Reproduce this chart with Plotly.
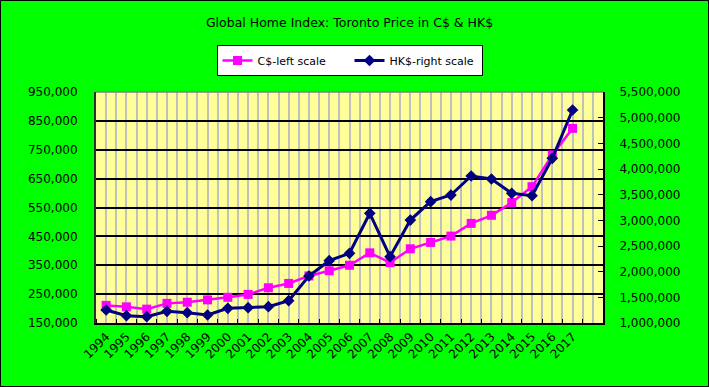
import plotly.graph_objects as go

years = [str(y) for y in range(1994, 2018)]
cad = [211000, 206000, 198000, 218000, 222000, 230000, 239000, 249000, 272000, 287000,
       313000, 331000, 350000, 393000, 359000, 407000, 429000, 451000, 495000, 523000,
       567000, 622000, 732000, 824000]
hkd = [1253000, 1142000, 1123000, 1228000, 1201000, 1156000, 1286000, 1299000, 1318000, 1434000,
       1916000, 2214000, 2358000, 3137000, 2292000, 3006000, 3363000, 3493000, 3864000, 3805000,
       3526000, 3480000, 4208000, 5149000]

left_ticks = list(range(150000, 950001, 100000))
right_ticks = list(range(1000000, 5500001, 500000))

idx = list(range(len(years)))
ncat = len(years) + 1  # one empty trailing category
centers = list(range(ncat))
bounds = [i + 0.5 for i in range(-1, ncat)]

GRAY = "#c0c0c0"
FONT = "DejaVu Sans"

fig = go.Figure()
fig.add_trace(go.Scatter(
    x=idx, y=cad, name="C$-left scale", mode="lines+markers",
    line=dict(color="#ff00ff", width=2.5),
    marker=dict(symbol="square", size=9, color="#ff00ff"),
    yaxis="y"))
fig.add_trace(go.Scatter(
    x=idx, y=hkd, name="HK$-right scale", mode="lines+markers",
    line=dict(color="#000080", width=3),
    marker=dict(symbol="diamond", size=9, color="#000080"),
    yaxis="y2"))

fig.update_layout(
    width=709, height=387,
    margin=dict(l=96, r=106, t=92, b=64, autoexpand=False),
    paper_bgcolor="#00ff00",
    plot_bgcolor="#ffff99",
    font=dict(family=FONT, size=12, color="black"),
    title=dict(text="Global Home Index: Toronto Price in C$ &amp; HK$",
               x=0.5, xref="paper", xanchor="center",
               y=1 - 23 / 387, yref="container", yanchor="middle",
               font=dict(family=FONT, size=12.5, color="black")),
    showlegend=True,
    legend=dict(orientation="h", x=0.5, xanchor="center", y=(323 - 45) / 231, yanchor="top",
                bgcolor="white", bordercolor="black", borderwidth=1,
                entrywidth=87, entrywidthmode="pixels",
                font=dict(family=FONT, size=11, color="black")),
    xaxis=dict(range=[-0.5, ncat - 0.5], tickmode="array", tickvals=centers,
               ticktext=years + [""], tickangle=-45, automargin=False,
               showgrid=True, gridcolor=GRAY, gridwidth=2,
               showline=True, linecolor="black", linewidth=2,
               ticks="", zeroline=False,
               minor=dict(tickmode="array", tickvals=bounds, showgrid=True,
                          gridcolor=GRAY, gridwidth=2, ticks="inside",
                          ticklen=4, tickcolor="black", tickwidth=1),
               tickfont=dict(family=FONT, size=12)),
    yaxis=dict(range=[150000, 950000], tickmode="array", tickvals=left_ticks,
               tickformat=",", showgrid=True, gridcolor="black", gridwidth=2,
               showline=True, linecolor="#303030", linewidth=2, automargin=False,
               zeroline=False, ticks="", ticklabelstandoff=14,
               tickfont=dict(family=FONT, size=12)),
    yaxis2=dict(range=[1000000, 5500000], tickmode="array", tickvals=right_ticks,
                tickformat=",", overlaying="y", side="right", showgrid=False,
                showline=True, linecolor="black", linewidth=2, automargin=False,
                zeroline=False, ticks="inside", ticklen=5, tickcolor="black",
                ticklabelstandoff=12,
                tickfont=dict(family=FONT, size=12)),
    shapes=[
        dict(type="line", xref="paper", yref="paper", x0=0, x1=1, y0=1, y1=1,
             line=dict(color="#808080", width=1.5)),
        dict(type="rect", xref="paper", yref="paper",
             x0=-96 / 507, x1=(709 - 96) / 507, y0=-64 / 231, y1=323 / 231,
             line=dict(color="black", width=2), fillcolor="rgba(0,0,0,0)"),
    ],
)

fig.write_html("out.html", config={"displayModeBar": False},
               post_script="document.body.style.margin='0';document.body.style.overflow='hidden';")
